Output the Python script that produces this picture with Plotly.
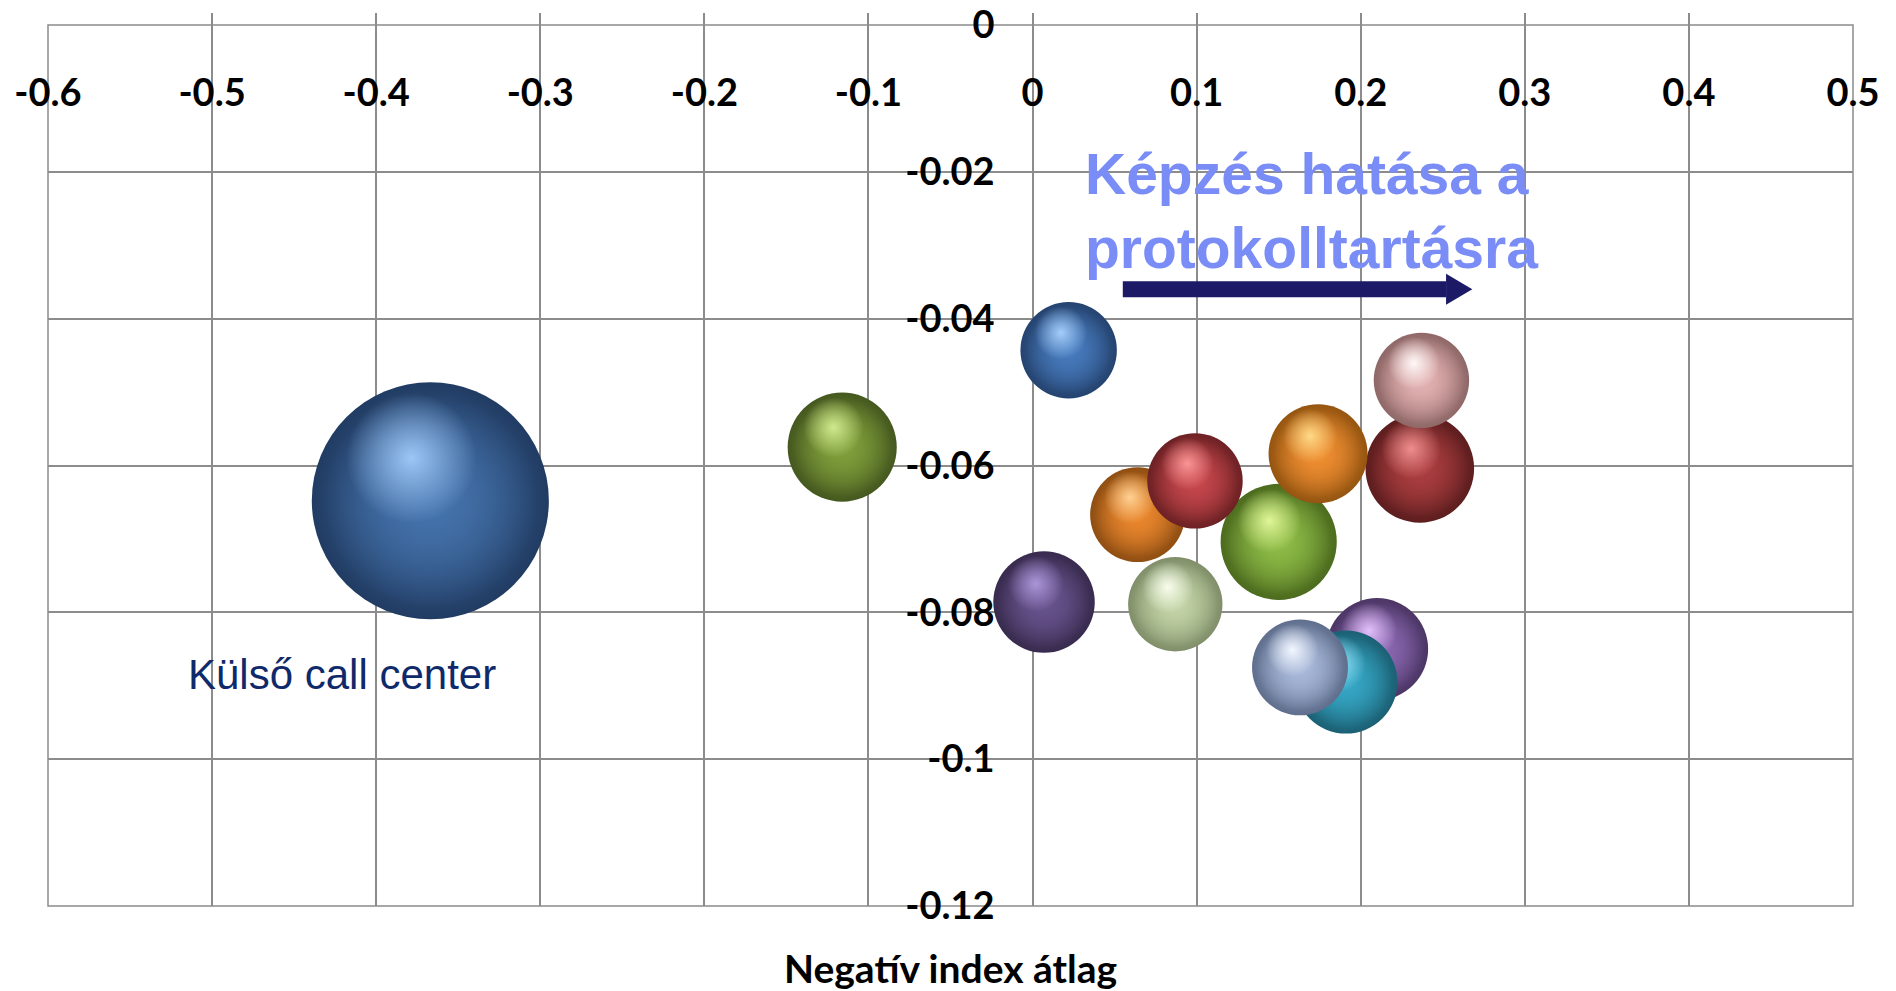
import math
import plotly.graph_objects as go

# ---- data -------------------------------------------------------------
csoportok = [
    "Külső call center", "2. csoport", "3. csoport", "4. csoport", "5. csoport",
    "6. csoport", "7. csoport", "8. csoport", "9. csoport", "10. csoport",
    "11. csoport", "12. csoport", "13. csoport", "14. csoport",
]
negativ_index = [-0.367, -0.116, 0.022, 0.007, 0.087, 0.064, 0.150,
                 0.099, 0.236, 0.174, 0.237, 0.210, 0.191, 0.163]
protokoll_index = [-0.0648, -0.0575, -0.0443, -0.0786, -0.0789, -0.0667, -0.0704,
                   -0.0621, -0.0604, -0.0584, -0.0484, -0.0850, -0.0895, -0.0875]
meretek = [562, 119, 93, 103, 89, 90, 135, 91, 118, 98, 91, 104, 106, 92]

# sphere shading per bubble: body, rim, highlight
test_szin = ["#4472ab", "#7f9e3a", "#4679bb", "#67528c", "#c2d3a6", "#e9862d", "#8cba46",
             "#c4464b", "#aa3d3f", "#ee8d31", "#e2b0b0", "#8c69b3", "#35a6c4", "#a8b8d8"]
perem_szin = ["#213c63", "#45581f", "#25436f", "#382b4e", "#808f69", "#8f4e12", "#4c6b1e",
              "#6d2124", "#5d1d1e", "#955510", "#8f6767", "#4c3665", "#1b6074", "#5f6e8d"]
feny_szin = ["#9cc6f5", "#d0e98e", "#a3cdfa", "#ab95d8", "#f8fdec", "#ffd092", "#e0f697",
             "#fa9494", "#ee8d8d", "#ffd986", "#fff8f8", "#e3c0fa", "#97e4fa", "#f2f7ff"]

x_tickek = [-0.6, -0.5, -0.4, -0.3, -0.2, -0.1, 0, 0.1, 0.2, 0.3, 0.4, 0.5]
x_cimkek = ["-0.6", "-0.5", "-0.4", "-0.3", "-0.2", "-0.1", "0", "0.1", "0.2", "0.3", "0.4", "0.5"]
y_tickek = [0, -0.02, -0.04, -0.06, -0.08, -0.1, -0.12]
y_cimkek = ["0", "-0.02", "-0.04", "-0.06", "-0.08", "-0.1", "-0.12"]

# ---- layout geometry --------------------------------------------------
W, H = 1896, 991
MARGO = dict(l=48, r=43, t=25, b=85)
X_RANGE = [-0.6, 0.5]
Y_RANGE = [-0.12, 0.0]
PX_X = (W - MARGO["l"] - MARGO["r"]) / (X_RANGE[1] - X_RANGE[0])
PX_Y = (H - MARGO["t"] - MARGO["b"]) / (Y_RANGE[1] - Y_RANGE[0])
SIZEREF = 0.02
RACS = "#8c8c8c"


def rgba(hexszin, alpha):
    h = hexszin.lstrip("#")
    r, g, b = int(h[0:2], 16), int(h[2:4], 16), int(h[4:6], 16)
    return f"rgba({r},{g},{b},{alpha})"


def gomb_marker(meret, szin, kozep):
    return dict(size=[meret], sizemode="area", sizeref=SIZEREF, opacity=1, color=szin,
                gradient=dict(type="radial", color=kozep), line=dict(width=0))


fig = go.Figure()

for i, nev in enumerate(csoportok):
    x, y, m = negativ_index[i], protokoll_index[i], meretek[i]
    d = math.sqrt(2 * m / SIZEREF)  # bubble diameter in px
    # body with dark rim
    fig.add_trace(go.Scatter(
        x=[x], y=[y], mode="markers", name=nev,
        marker=gomb_marker(m, perem_szin[i], test_szin[i]),
        hovertemplate=f"{nev}<br>%{{x}}, %{{y}}<extra></extra>",
    ))
    # flatter inner body
    fig.add_trace(go.Scatter(
        x=[x], y=[y], mode="markers", hoverinfo="skip",
        marker=gomb_marker(m * 0.9 ** 2, rgba(test_szin[i], 0), test_szin[i]),
    ))
    # soft specular highlight, up and to the left
    fig.add_trace(go.Scatter(
        x=[x - 0.08 * d / PX_X], y=[y + 0.18 * d / PX_Y], mode="markers", hoverinfo="skip",
        marker=gomb_marker(m * 0.55 ** 2, rgba(feny_szin[i], 0), feny_szin[i]),
    ))

# arrow next to the heading
NYIL_Y = -0.036
NYIL_X0, NYIL_X1, NYIL_HEGY = 0.055, 0.252, 0.268
NYIL_FEL = 15.5 / PX_Y
NYIL_SZIN = "#1c1a66"
shapes = [
    dict(type="rect", xref="paper", yref="paper", x0=0, x1=1, y0=0, y1=1,
         line=dict(color=RACS, width=1.5), layer="below"),
    dict(type="line", xref="x", yref="y", x0=NYIL_X0, x1=NYIL_X1, y0=NYIL_Y, y1=NYIL_Y,
         line=dict(color=NYIL_SZIN, width=16)),
    dict(type="path", xref="x", yref="y",
         path=f"M {NYIL_X1},{NYIL_Y + NYIL_FEL} L {NYIL_HEGY},{NYIL_Y} L {NYIL_X1},{NYIL_Y - NYIL_FEL} Z",
         fillcolor=NYIL_SZIN, line=dict(width=0)),
]

annotations = [
    dict(text="Képzés hatása a<br>protokolltartásra", x=0.0308, y=-0.0157, xref="x", yref="y",
         xanchor="left", yanchor="top", align="left", showarrow=False,
         font=dict(family="Liberation Sans, Arial, sans-serif", size=57, color="#7a8cf6",
                   weight="bold")),
    dict(text="Külső call center", x=-0.516, y=-0.0885, xref="x", yref="y",
         xanchor="left", yanchor="middle", showarrow=False,
         font=dict(family="Liberation Sans, Arial, sans-serif", size=42, color="#0f2a6b")),
    dict(text="Negatív index átlag", x=0.5, y=-0.0705, xref="paper", yref="paper",
         xanchor="center", yanchor="middle", showarrow=False, borderpad=0,
         font=dict(family="Lato, sans-serif", size=39, color="#000000", weight="bold")),
]

tick_font = dict(family="Lato, sans-serif", size=38, color="#000000", weight="bold")

fig.update_layout(
    width=W, height=H, margin=MARGO, showlegend=False,
    paper_bgcolor="white", plot_bgcolor="white",
    xaxis=dict(range=X_RANGE, anchor="free", position=1, side="bottom",
               tickmode="array", tickvals=x_tickek, ticktext=x_cimkek,
               ticks="inside", ticklen=12, tickwidth=1.5, tickcolor=RACS, ticklabelstandoff=42,
               showgrid=True, gridcolor=RACS, gridwidth=1.5, zeroline=False, showline=False,
               tickfont=tick_font, fixedrange=True, automargin=False),
    yaxis=dict(range=Y_RANGE, anchor="free", position=(0 - X_RANGE[0]) / (X_RANGE[1] - X_RANGE[0]),
               side="left", tickmode="array", tickvals=y_tickek, ticktext=y_cimkek,
               ticks="", ticklabelstandoff=38,
               showgrid=True, gridcolor=RACS, gridwidth=1.5, zeroline=False, showline=False,
               tickfont=tick_font, fixedrange=True, automargin=False),
    shapes=shapes,
    annotations=annotations,
)

fig.write_html("out.html")
